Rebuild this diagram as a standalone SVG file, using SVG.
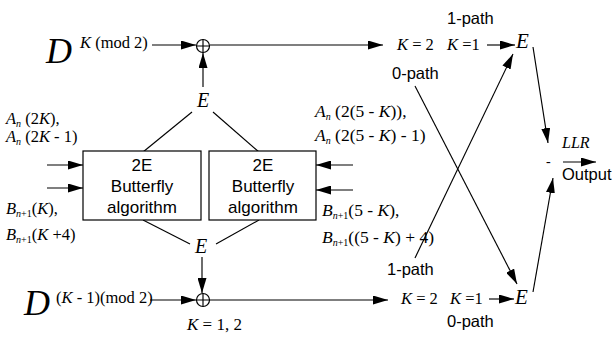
<svg xmlns="http://www.w3.org/2000/svg" width="614" height="339" viewBox="0 0 614 339">
<style>
.ln{stroke:#000;stroke-width:1.15;fill:none}
.ar{stroke:#000;stroke-width:1.15;fill:none;marker-end:url(#ah)}
.box{stroke:#000;stroke-width:1.2;fill:#fff}
.sr{font-family:"Liberation Serif","Times New Roman",serif;fill:#000}
.ss{font-family:"Liberation Sans",Arial,sans-serif;fill:#000}
.it{font-style:italic}
.xor{stroke:#000;stroke-width:1.2;fill:#fff}
</style>
<defs>
<marker id="ah" viewBox="0 0 15 9" refX="15" refY="4.5" markerWidth="15" markerHeight="9" markerUnits="userSpaceOnUse" orient="auto"><path d="M0,0 L15,4.5 L0,9 z" fill="#000"/></marker>
</defs>

<g id="connectors">
<path class="ar" d="M152,45 L196,45"/>
<path class="ln" d="M210,45 L300,45"/>
<path class="ar" d="M300,45 L383,45"/>
<path class="ar" d="M487,45 L515,45"/>
<path class="ar" d="M203,87 L203,53"/>
<path class="ln" d="M192,112 L143,152"/>
<path class="ln" d="M213,112 L259,152"/>
<path class="ln" d="M143,220 L190,244"/>
<path class="ln" d="M259,220 L216,244"/>
<path class="ar" d="M202,257 L202,293"/>
<path class="ar" d="M150,300 L196,300"/>
<path class="ln" d="M210,300 L300,300"/>
<path class="ar" d="M300,300 L388,300"/>
<path class="ar" d="M489,299 L514,299"/>
<path class="ar" d="M415,86 L517,284"/>
<path class="ar" d="M415,258 L513,54"/>
<path class="ar" d="M533,47 L548,143"/>
<path class="ar" d="M533,292 L553,178"/>
<path class="ar" d="M563,162 L596,162"/>
<path class="ar" d="M47,165 L83,165"/>
<path class="ar" d="M47,188 L83,188"/>
<path class="ar" d="M353,165 L316,165"/>
<path class="ar" d="M353,190 L316,190"/>
</g>

<g id="d-top">
<text class="sr it" x="46" y="63" font-size="36">D</text>
<text class="sr" x="80" y="48" font-size="16.5"><tspan class="it">K</tspan> (mod 2)</text>
</g>

<g id="xor-top">
<circle class="xor" cx="203" cy="46" r="6.5"/>
<path class="ln" d="M196.5,46 L209.5,46 M203,39.5 L203,52.5" stroke-width="1.2"/>
</g>

<g id="e-top">
<text class="sr it" x="203" y="107" font-size="20" text-anchor="middle">E</text>
</g>

<g id="box-left">
<rect class="box" x="83" y="151" width="118" height="69"/>
<text class="ss" x="142" y="171" font-size="17" text-anchor="middle">2E</text>
<text class="ss" x="142" y="192" font-size="17" text-anchor="middle">Butterfly</text>
<text class="ss" x="142" y="213" font-size="17" text-anchor="middle">algorithm</text>
</g>

<g id="box-right">
<rect class="box" x="209" y="151" width="107" height="69"/>
<text class="ss" x="263" y="171" font-size="17" text-anchor="middle">2E</text>
<text class="ss" x="263" y="192" font-size="17" text-anchor="middle">Butterfly</text>
<text class="ss" x="263" y="213" font-size="17" text-anchor="middle">algorithm</text>
</g>

<g id="inputs-left">
<text class="sr" x="6" y="124" font-size="16.5"><tspan class="it">A</tspan><tspan class="it" font-size="10" dy="3">n</tspan><tspan dy="-3">&#160;(2</tspan><tspan class="it">K</tspan>),</text>
<text class="sr" x="6" y="142" font-size="16.5"><tspan class="it">A</tspan><tspan class="it" font-size="10" dy="3">n</tspan><tspan dy="-3">&#160;(2</tspan><tspan class="it">K</tspan> - 1)</text>
<text class="sr" x="6" y="214" font-size="16.5"><tspan class="it">B</tspan><tspan class="it" font-size="10" dy="3">n</tspan><tspan font-size="10">+1</tspan><tspan dy="-3">(</tspan><tspan class="it">K</tspan>),</text>
<text class="sr" x="6" y="240" font-size="16.5"><tspan class="it">B</tspan><tspan class="it" font-size="10" dy="3">n</tspan><tspan font-size="10">+1</tspan><tspan dy="-3">(</tspan><tspan class="it">K</tspan> +4)</text>
</g>

<g id="inputs-right">
<text class="sr" x="315" y="117" font-size="17.5"><tspan class="it">A</tspan><tspan class="it" font-size="10" dy="3">n</tspan><tspan dy="-3">&#160;(2(5 - </tspan><tspan class="it">K</tspan>)),</text>
<text class="sr" x="315" y="141" font-size="17.5"><tspan class="it">A</tspan><tspan class="it" font-size="10" dy="3">n</tspan><tspan dy="-3">&#160;(2(5 - </tspan><tspan class="it">K</tspan>) - 1)</text>
<text class="sr" x="322" y="216" font-size="17.5"><tspan class="it">B</tspan><tspan class="it" font-size="10" dy="3">n</tspan><tspan font-size="10">+1</tspan><tspan dy="-3">(5 - </tspan><tspan class="it">K</tspan>),</text>
<text class="sr" x="322" y="243" font-size="17.5"><tspan class="it">B</tspan><tspan class="it" font-size="10" dy="3">n</tspan><tspan font-size="10">+1</tspan><tspan dy="-3">((5 - </tspan><tspan class="it">K</tspan>) + 4)</text>
</g>

<g id="e-bottom">
<text class="sr it" x="201" y="253" font-size="20" text-anchor="middle">E</text>
</g>

<g id="xor-bottom">
<circle class="xor" cx="203" cy="300" r="6.5"/>
<path class="ln" d="M196.5,300 L209.5,300 M203,293.5 L203,306.5" stroke-width="1.2"/>
</g>

<g id="d-bottom">
<text class="sr it" x="24" y="315" font-size="36">D</text>
<text class="sr" x="56" y="303" font-size="16.5">(<tspan class="it">K</tspan> - 1)(mod 2)</text>
<text class="sr" x="187" y="330" font-size="17"><tspan class="it">K</tspan> = 1, 2</text>
</g>

<g id="path-top">
<text class="ss" x="447" y="24" font-size="16.5">1-path</text>
<text class="sr" x="397" y="50" font-size="16.5"><tspan class="it">K</tspan> = 2</text>
<text class="sr" x="447" y="50" font-size="16.5"><tspan class="it">K</tspan> =1</text>
<text class="ss" x="392" y="79" font-size="16.5">0-path</text>
</g>

<g id="e-right-top">
<text class="sr it" x="516" y="48" font-size="21">E</text>
</g>

<g id="path-bottom">
<text class="ss" x="387" y="275" font-size="16.5">1-path</text>
<text class="sr" x="401" y="304" font-size="16.5"><tspan class="it">K</tspan> = 2</text>
<text class="sr" x="450" y="304" font-size="16.5"><tspan class="it">K</tspan> =1</text>
<text class="ss" x="447" y="327" font-size="16.5">0-path</text>
</g>

<g id="e-right-bottom">
<text class="sr it" x="515" y="304" font-size="21">E</text>
</g>

<g id="output">
<text class="sr it" x="562" y="148" font-size="16">LLR</text>
<text class="sr" x="546" y="166" font-size="14">-</text>
<text class="ss" x="562" y="180" font-size="16.5">Output</text>
</g>
</svg>
